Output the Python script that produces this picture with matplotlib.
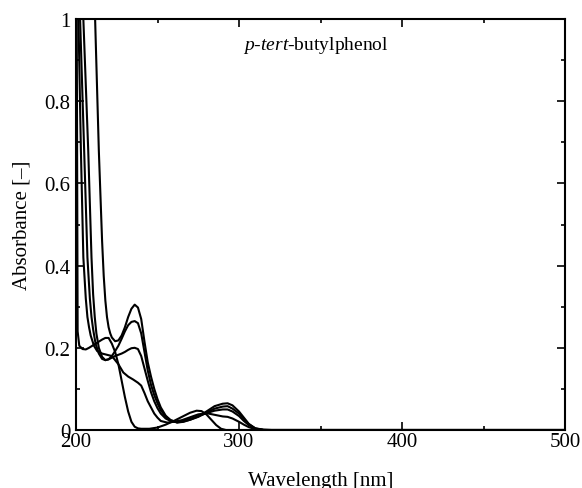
import numpy as np
import matplotlib
matplotlib.use('Agg')
from matplotlib import pyplot as plt
from matplotlib.ticker import MultipleLocator

plt.rcParams['font.family'] = ['Liberation Serif', 'DejaVu Serif']
plt.rcParams['mathtext.fontset'] = 'custom'
plt.rcParams['mathtext.rm'] = 'Liberation Serif'
plt.rcParams['mathtext.it'] = 'Liberation Serif:italic'

# ----- spectra ----- #
# E : phenol form (peaks ~220 / ~275 nm)
wl_e = [200, 201, 202, 204, 206, 208, 210, 212, 214, 216, 218, 220, 222, 224, 226, 228,
        230, 232, 234, 236, 238, 240, 245, 250, 255, 260, 265, 270, 274, 277, 280, 283,
        286, 289, 292, 300, 500]
abs_e = [1.6, 0.24, 0.205, 0.197, 0.196, 0.2, 0.205, 0.21, 0.215, 0.22, 0.224, 0.224, 0.21,
         0.19, 0.16, 0.12, 0.08, 0.045, 0.02, 0.008, 0.004, 0.003, 0.003, 0.006, 0.013, 0.022,
         0.032, 0.042, 0.047, 0.046, 0.038, 0.025, 0.012, 0.003, 0.0, 0.0, 0.0]

# D : shoulder ~0.12 at 237 nm
wl_d = [199, 201.5, 203, 204.5, 206, 207, 208, 209, 211, 213, 216, 219, 222, 226, 229, 232,
        235, 238, 240, 242, 244, 246, 248, 250, 252, 256, 260, 265, 270, 275, 280, 285, 290,
        293, 296, 300, 303, 306, 310, 315, 320, 500]
abs_d = [1.3, 1.0, 0.68, 0.42, 0.32, 0.275, 0.25, 0.23, 0.205, 0.192, 0.186, 0.183, 0.18,
         0.16, 0.14, 0.13, 0.123, 0.115, 0.108, 0.09, 0.07, 0.055, 0.04, 0.03, 0.022, 0.018,
         0.02, 0.024, 0.031, 0.038, 0.041, 0.037, 0.033, 0.032, 0.028, 0.02, 0.013, 0.007,
         0.002, 0.0, 0.0, 0.0]

# C : peak ~0.20
wl_c = [200, 202.5, 205, 207, 208.5, 209.5, 210.5, 212, 214, 216, 218, 220, 222, 224, 226,
        228, 230, 232, 234, 236, 238, 240, 242, 244, 246, 248, 250, 252, 255, 258, 262, 265,
        270, 275, 280, 285, 290, 293, 296, 300, 303, 306, 310, 315, 320, 500]
abs_c = [1.3, 1.0, 0.68, 0.42, 0.32, 0.275, 0.245, 0.21, 0.186, 0.173, 0.17, 0.172, 0.176,
         0.18, 0.183, 0.186, 0.19, 0.195, 0.199, 0.2, 0.197, 0.18, 0.15, 0.12, 0.092, 0.07,
         0.053, 0.04, 0.028, 0.022, 0.019, 0.021, 0.027, 0.034, 0.041, 0.047, 0.05, 0.05,
         0.045, 0.034, 0.022, 0.012, 0.003, 0.0, 0.0, 0.0]

# B : peak ~0.265
wl_b = [200, 204.5, 207.5, 209.5, 210.5, 211.5, 212.5, 214, 216, 218, 220, 222, 224, 226,
        228, 230, 232, 234, 236, 238, 240, 242, 244, 246, 248, 250, 252, 255, 258, 262, 265,
        270, 275, 280, 285, 290, 293, 296, 300, 303, 306, 310, 315, 320, 500]
abs_b = [1.8, 1.0, 0.68, 0.42, 0.33, 0.275, 0.235, 0.2, 0.178, 0.17, 0.172, 0.18, 0.192,
         0.205, 0.222, 0.24, 0.255, 0.263, 0.265, 0.26, 0.235, 0.19, 0.145, 0.11, 0.085,
         0.065, 0.048, 0.033, 0.024, 0.019, 0.02, 0.025, 0.032, 0.042, 0.052, 0.057, 0.058,
         0.052, 0.04, 0.027, 0.014, 0.004, 0.0, 0.0, 0.0]

# A : peak ~0.305
wl_a = [205, 210, 212, 214, 216, 217, 218, 219, 220, 221, 222, 224, 226, 228, 230, 232, 234,
        236, 238, 240, 242, 244, 246, 248, 250, 252, 255, 258, 262, 266, 270, 275, 280, 285,
        290, 293, 296, 300, 303, 306, 310, 315, 320, 500]
abs_a = [2.0, 1.25, 0.96, 0.68, 0.46, 0.375, 0.315, 0.275, 0.25, 0.235, 0.225, 0.216, 0.218,
         0.23, 0.25, 0.275, 0.295, 0.305, 0.298, 0.27, 0.215, 0.165, 0.13, 0.1, 0.075, 0.055,
         0.035, 0.024, 0.018, 0.02, 0.025, 0.033, 0.045, 0.058, 0.064, 0.065, 0.06, 0.045,
         0.03, 0.015, 0.004, 0.001, 0.0, 0.0]

xticks = [200, 300, 400, 500]
yticks = [0, 0.2, 0.4, 0.6, 0.8, 1]
ytick_labels = ['0', '0.2', '0.4', '0.6', '0.8', '1']

###########################################
fig = plt.figure(figsize=(5.82, 4.89), dpi=100)
ax = fig.add_axes([0.1306, 0.1186, 0.8402, 0.8405])

for wl, ab in [(wl_e, abs_e), (wl_d, abs_d), (wl_c, abs_c), (wl_b, abs_b), (wl_a, abs_a)]:
	ax.plot(wl, ab, color='black', lw=1.5, solid_joinstyle='round')

ax.set_xlim(200, 500)
ax.set_ylim(0, 1)
ax.set_xticks(xticks)
ax.set_yticks(yticks)
ax.set_yticklabels(ytick_labels)
ax.xaxis.set_minor_locator(MultipleLocator(50))
ax.yaxis.set_minor_locator(MultipleLocator(0.1))
ax.tick_params(which='both', direction='in', top=True, right=True, labelsize=15, width=1.2)
ax.tick_params(which='major', length=6)
ax.tick_params(which='minor', length=3)
ax.tick_params(axis='x', which='major', pad=1.5)
ax.tick_params(axis='y', which='major', pad=4)
for sp in ax.spines.values():
	sp.set_linewidth(1.5)

ax.set_xlabel('Wavelength [nm]', fontsize=15, labelpad=14)
ax.set_ylabel('Absorbance [\u2013]', fontsize=15, labelpad=9)
ax.text(302.5, 0.939, r'$\mathit{p}$-$\mathit{tert}$-butylphenol', fontsize=14, va='center', ha='left')

fig.savefig('out.png', dpi=100)
